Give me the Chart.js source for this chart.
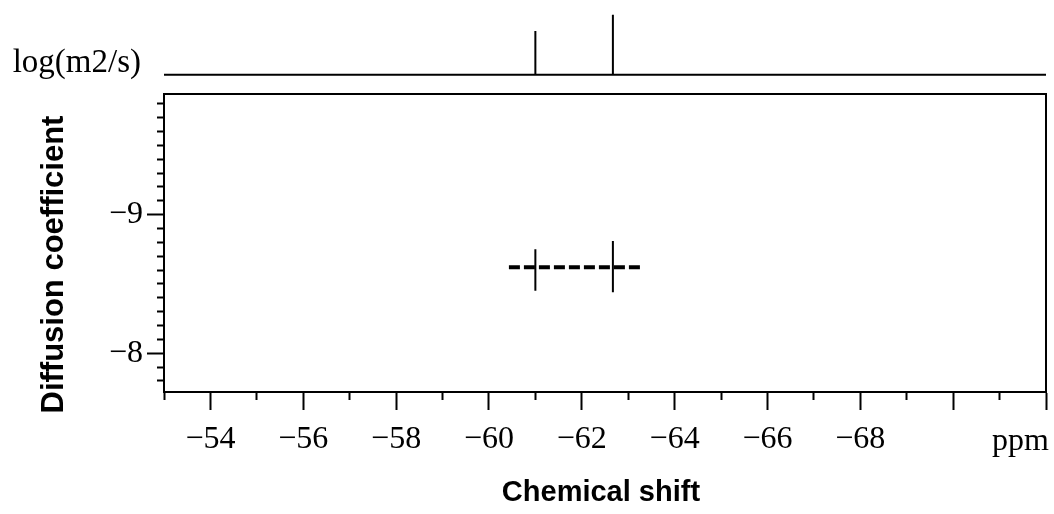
<!DOCTYPE html>
<html>
<head>
<meta charset="utf-8">
<script src="https://cdn.jsdelivr.net/npm/chart.js@4/dist/chart.umd.min.js"></script>
<style>
body{margin:0;background:#fff;}
#box{width:1054px;height:514px;}
</style>
</head>
<body>
<div id="box"><canvas id="dosy" width="1054" height="514"></canvas></div>
<script>
// axis ranges and labels
let shiftRange = [-53, -72];
let diffRange = [-9.87, -7.72];
let specRange = [-0.32, 1.08];
let shiftLabels = [-54, -56, -58, -60, -62, -64, -66, -68];
let diffLabels = [-9, -8];

// 1D spectrum peaks (top trace)
let peakShift = [-61.0, -62.67];
let peakHeight = [0.73, 1.0];

// DOSY cross peaks
let barLow = [-8.75, -8.81];
let barHigh = [-8.45, -8.44];
let dashShift = [-60.43, -63.27];
let dashDiff = [-8.62, -8.62];

let serif = 'Liberation Serif';
let sans = 'Liberation Sans';

let specLine = [{x: shiftRange[0], y: 0}];
peakShift.forEach((s, i) => {
	specLine.push({x: s, y: 0}, {x: s, y: peakHeight[i]}, {x: s, y: 0});
});
specLine.push({x: shiftRange[1], y: 0});

let minus = v => '\u2212' + Math.abs(v);
let noPad = s => { s.paddingTop = 0; s.paddingBottom = 0; s.paddingLeft = 0; s.paddingRight = 0; };

// top + right edges of the main box, and the ppm unit
let frame = {
	id: 'frame',
	afterDraw: c => {
		let ctx = c.ctx, x = c.scales.x, y = c.scales.y;
		ctx.save();
		ctx.strokeStyle = '#000';
		ctx.lineWidth = 2;
		ctx.beginPath();
		ctx.moveTo(x.left, y.top);
		ctx.lineTo(x.right, y.top);
		ctx.lineTo(x.right, y.bottom);
		ctx.stroke();
		ctx.fillStyle = '#000';
		ctx.font = '32px "' + serif + '"';
		ctx.textAlign = 'right';
		ctx.textBaseline = 'alphabetic';
		ctx.fillText('ppm', x.right + 3, x.top + 58);
		ctx.restore();
	}
};

let datasets = [{
	data: specLine,
	yAxisID: 'ySpec',
	showLine: true,
	borderColor: '#000',
	borderWidth: 2,
	pointRadius: 0
}, {
	data: dashShift.map((s, i) => ({x: s, y: dashDiff[i]})),
	yAxisID: 'y',
	showLine: true,
	borderColor: '#000',
	borderWidth: 4,
	borderDash: [11, 4],
	pointRadius: 0
}];
peakShift.forEach((s, i) => {
	datasets.push({
		data: [{x: s, y: barLow[i]}, {x: s, y: barHigh[i]}],
		yAxisID: 'y',
		showLine: true,
		borderColor: '#000',
		borderWidth: 2,
		pointRadius: 0
	});
});

new Chart(document.getElementById('dosy'), {
	type: 'scatter',
	data: {datasets: datasets},
	options: {
		responsive: false,
		devicePixelRatio: 1,
		animation: false,
		layout: {padding: {left: 0, right: 8, top: 10, bottom: 0}},
		plugins: {legend: {display: false}, tooltip: {enabled: false}},
		scales: {
			x: {
				type: 'linear',
				min: shiftRange[1],
				max: shiftRange[0],
				reverse: true,
				afterFit: s => { s.height = 122; noPad(s); },
				border: {display: true, color: '#000', width: 2},
				grid: {
					drawOnChartArea: false,
					tickLength: 18,
					tickColor: '#000',
					tickWidth: 2,
					tickBorderDash: ctx => Math.round(ctx.tick.value) % 2 === 0 ? [] : [7, 100]
				},
				ticks: {
					stepSize: 1,
					autoSkip: false,
					maxRotation: 0,
					padding: 10,
					color: '#000',
					font: {family: serif, size: 32},
					callback: v => shiftLabels.includes(Math.round(v)) ? minus(Math.round(v)) : ''
				},
				title: {
					display: true,
					text: 'Chemical shift ',
					color: '#000',
					font: {family: sans, size: 29, weight: 'bold'},
					padding: {top: 0, bottom: 3.6}
				}
			},
			y: {
				type: 'linear',
				position: 'left',
				stack: 'left',
				stackWeight: 298,
				weight: 0,
				min: diffRange[0],
				max: diffRange[1],
				reverse: true,
				afterFit: s => { s.width = 164; noPad(s); },
				border: {display: true, color: '#000', width: 2},
				grid: {
					drawOnChartArea: false,
					tickLength: 17,
					tickColor: '#000',
					tickWidth: 2,
					tickBorderDash: ctx => Math.abs(ctx.tick.value - Math.round(ctx.tick.value)) < 1e-6 ? [] : [0, 10, 6, 100]
				},
				ticks: {
					stepSize: 0.1,
					includeBounds: false,
					autoSkip: false,
					padding: 4,
					color: '#000',
					font: {family: serif, size: 32},
					callback: v => diffLabels.some(d => Math.abs(d - v) < 1e-6) ? minus(Math.round(v)) : ''
				},
				title: {
					display: true,
					text: 'Diffusion coefficient     ',
					color: '#000',
					font: {family: sans, size: 31, weight: 'bold'},
					padding: {top: 36, bottom: 0}
				}
			},
			ySpec: {
				type: 'linear',
				position: 'left',
				stack: 'left',
				stackWeight: 84,
				weight: 1,
				min: specRange[0],
				max: specRange[1],
				afterBuildTicks: s => { s.ticks = [{value: 0}]; },
				afterFit: s => { s.width = 164; noPad(s); },
				border: {display: false},
				grid: {display: false},
				ticks: {
					padding: 15,
					labelOffset: -11,
					color: '#000',
					font: {family: serif, size: 33},
					callback: () => 'log(m2/s)'
				}
			}
		}
	},
	plugins: [frame]
});
</script>
</body>
</html>
